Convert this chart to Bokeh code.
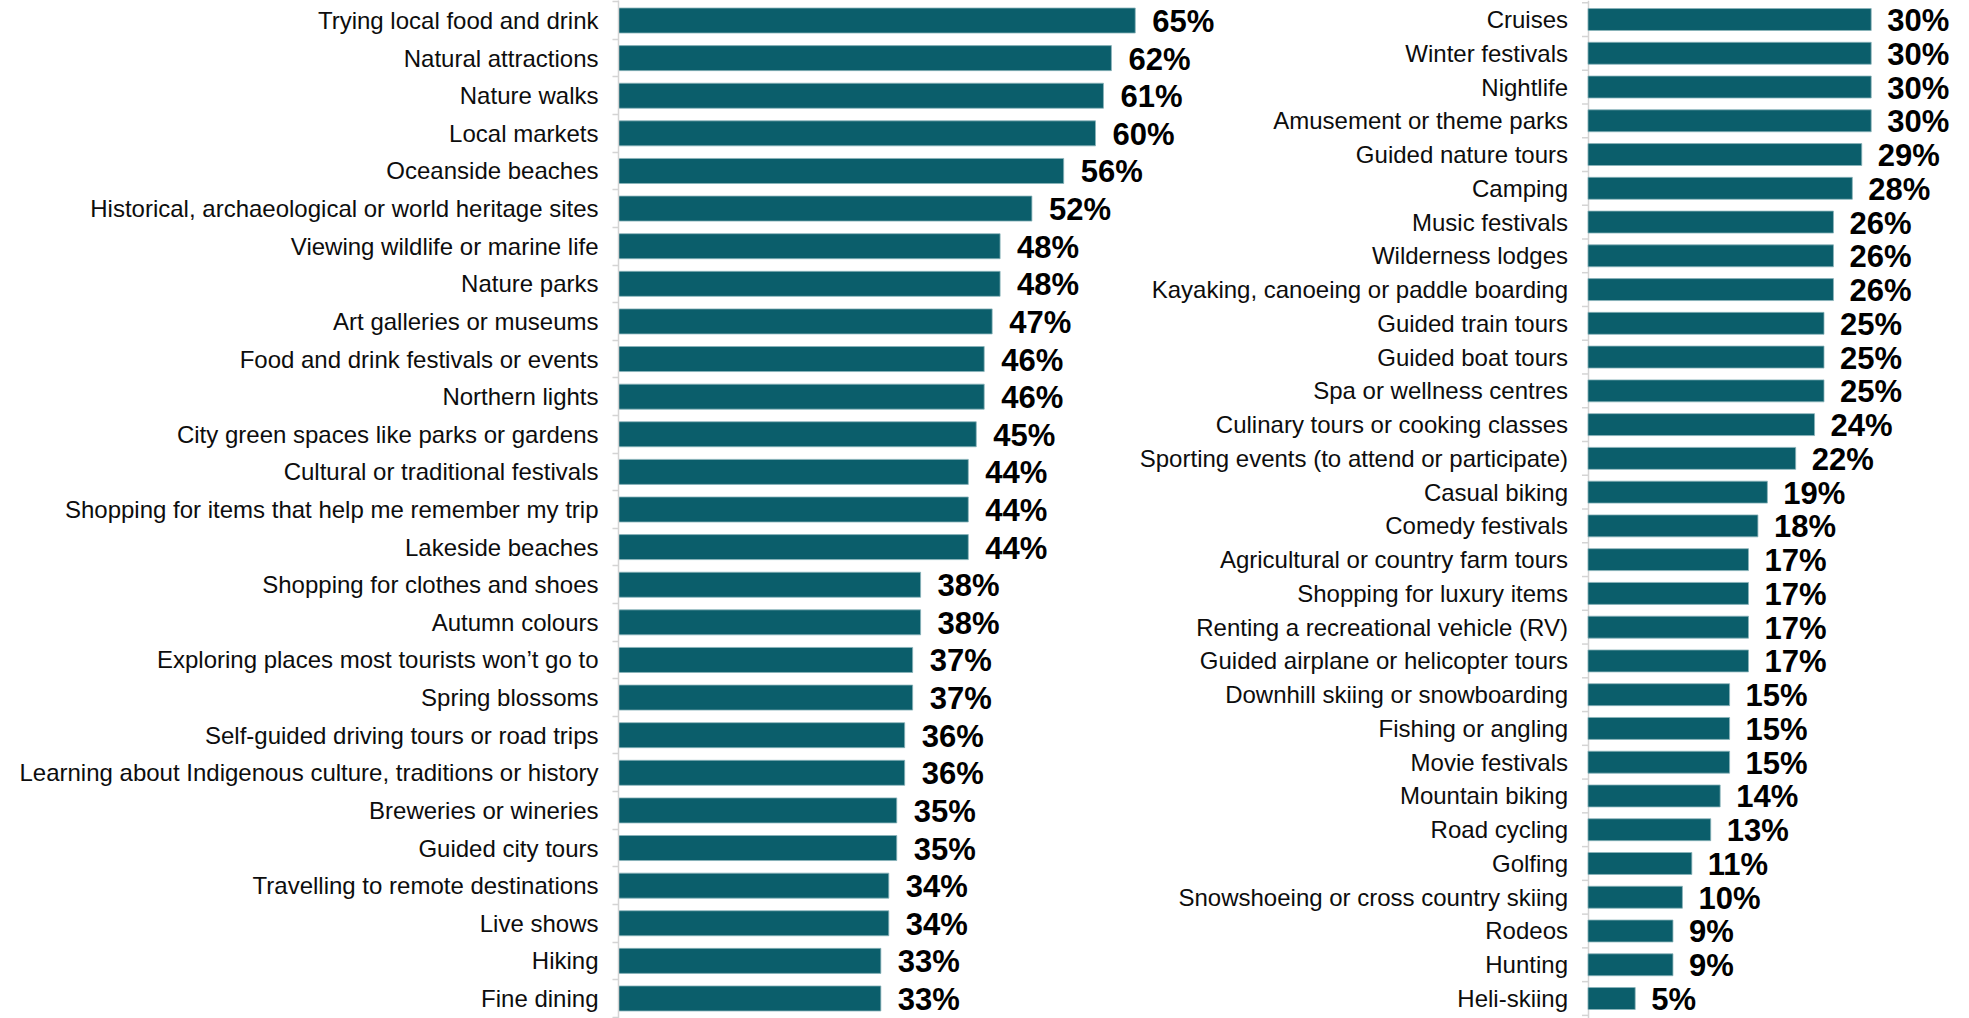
import math
from bokeh.plotting import figure
from bokeh.models import Range1d, FixedTicker, ColumnDataSource
from bokeh.core.properties import value
from bokeh.embed import file_html
from bokeh.resources import INLINE

left_labels = [
    "Trying local food and drink",
    "Natural attractions",
    "Nature walks",
    "Local markets",
    "Oceanside beaches",
    "Historical, archaeological or world heritage sites",
    "Viewing wildlife or marine life",
    "Nature parks",
    "Art galleries or museums",
    "Food and drink festivals or events",
    "Northern lights",
    "City green spaces like parks or gardens",
    "Cultural or traditional festivals",
    "Shopping for items that help me remember my trip",
    "Lakeside beaches",
    "Shopping for clothes and shoes",
    "Autumn colours",
    "Exploring places most tourists won\u2019t go to",
    "Spring blossoms",
    "Self-guided driving tours or road trips",
    "Learning about Indigenous culture, traditions or history",
    "Breweries or wineries",
    "Guided city tours",
    "Travelling to remote destinations",
    "Live shows",
    "Hiking",
    "Fine dining",
]
left_values = [65, 62, 61, 60, 56, 52, 48, 48, 47, 46, 46, 45, 44, 44, 44,
               38, 38, 37, 37, 36, 36, 35, 35, 34, 34, 33, 33]

right_labels = [
    "Cruises",
    "Winter festivals",
    "Nightlife",
    "Amusement or theme parks",
    "Guided nature tours",
    "Camping",
    "Music festivals",
    "Wilderness lodges",
    "Kayaking, canoeing or paddle boarding",
    "Guided train tours",
    "Guided boat tours",
    "Spa or wellness centres",
    "Culinary tours or cooking classes",
    "Sporting events (to attend or participate)",
    "Casual biking",
    "Comedy festivals",
    "Agricultural or country farm tours",
    "Shopping for luxury items",
    "Renting a recreational vehicle (RV)",
    "Guided airplane or helicopter tours",
    "Downhill skiing or snowboarding",
    "Fishing or angling",
    "Movie festivals",
    "Mountain biking",
    "Road cycling",
    "Golfing",
    "Snowshoeing or cross country skiing",
    "Rodeos",
    "Hunting",
    "Heli-skiing",
]
right_values = [30, 30, 30, 30, 29, 28, 26, 26, 26, 25, 25, 25, 24, 22, 19,
                18, 17, 17, 17, 17, 15, 15, 15, 14, 13, 11, 10, 9, 9, 5]

# ---- styling / geometry ----
BAR = "#0b5e6b"
EDGE = "#8ab4ba"
AX = "#d4d4d4"
TXT = "#0d0d0d"
FONT = "Liberation Sans"

W, H = 1969, 1018
BORDER_L = 618
frame_w = W - BORDER_L
L_PX = 7.95      # px per percent, left panel
R_PX = 9.44      # px per percent, right panel
R_ZERO = 969.5   # right panel zero, px from frame left
padL_top, padL_bot = 0.532, 0.532
padR_top, padR_bot = 0.563, 0.592

nL, nR = len(left_labels), len(right_labels)

p = figure(width=W, height=H, output_backend="svg", toolbar_location=None,
           x_range=Range1d(0, frame_w / L_PX),
           y_range=Range1d(nL - 1 + padL_bot, -padL_top),
           x_axis_location=None, y_axis_location="left",
           min_border_left=BORDER_L, min_border_right=0,
           min_border_top=0, min_border_bottom=0,
           background_fill_color="white", border_fill_color="white")
p.outline_line_color = None
p.grid.visible = False

p.extra_x_ranges = {"rx": Range1d(-R_ZERO / R_PX, (frame_w - R_ZERO) / R_PX)}
p.extra_y_ranges = {"ry": Range1d(nR - 1 + padR_bot, -padR_top)}

# ---- left panel ----
srcL = ColumnDataSource(dict(
    y=list(range(nL)), v=left_values, lab=left_labels,
    t=[f"{v}%" for v in left_values]))
p.hbar(y="y", left=0, right="v", height=0.665, source=srcL,
       fill_color=BAR, line_color=EDGE, line_width=0.8)
p.text(x="v", y="y", text="t", source=srcL, x_offset=17, y_offset=1,
       text_align="left", text_baseline="middle",
       text_font=value(FONT), text_font_style="bold",
       text_font_size="31px", text_color="black")

ax = p.yaxis[0]
ax.ticker = FixedTicker(ticks=list(range(nL)),
                        minor_ticks=[i + 0.5 for i in range(-1, nL)])
ax.major_label_overrides = {i: lab for i, lab in enumerate(left_labels)}
ax.major_label_text_font = FONT
ax.major_label_text_font_size = "24px"
ax.major_label_text_color = TXT
ax.major_label_standoff = 14
ax.major_tick_line_color = None
ax.major_tick_out = 0
ax.major_tick_in = 0
ax.minor_tick_line_color = AX
ax.minor_tick_line_width = 1.5
ax.minor_tick_out = 6
ax.minor_tick_in = 0
ax.axis_line_color = AX
ax.axis_line_width = 1.5

# ---- right panel ----
srcR = ColumnDataSource(dict(
    y=list(range(nR)), v=right_values, lab=right_labels,
    t=[f"{v}%" for v in right_values]))
p.vspan(x=[0], x_range_name="rx", line_color=AX, line_width=1.5)
p.ray(x=[0] * (nR + 1), y=[i + 0.5 for i in range(-1, nR)], length=6,
      length_units="screen", angle=math.pi, line_color=AX, line_width=1.5,
      x_range_name="rx", y_range_name="ry")
p.hbar(y="y", left=0, right="v", height=0.65, source=srcR,
       fill_color=BAR, line_color=EDGE, line_width=0.8,
       x_range_name="rx", y_range_name="ry")
p.text(x=0, y="y", text="lab", source=srcR, x_offset=-20,
       text_align="right", text_baseline="middle",
       text_font=value(FONT), text_font_size="24px", text_color=TXT,
       x_range_name="rx", y_range_name="ry")
p.text(x="v", y="y", text="t", source=srcR, x_offset=16, y_offset=1,
       text_align="left", text_baseline="middle",
       text_font=value(FONT), text_font_style="bold",
       text_font_size="31px", text_color="black",
       x_range_name="rx", y_range_name="ry")

open("out.html", "w").write(file_html(p, INLINE))
